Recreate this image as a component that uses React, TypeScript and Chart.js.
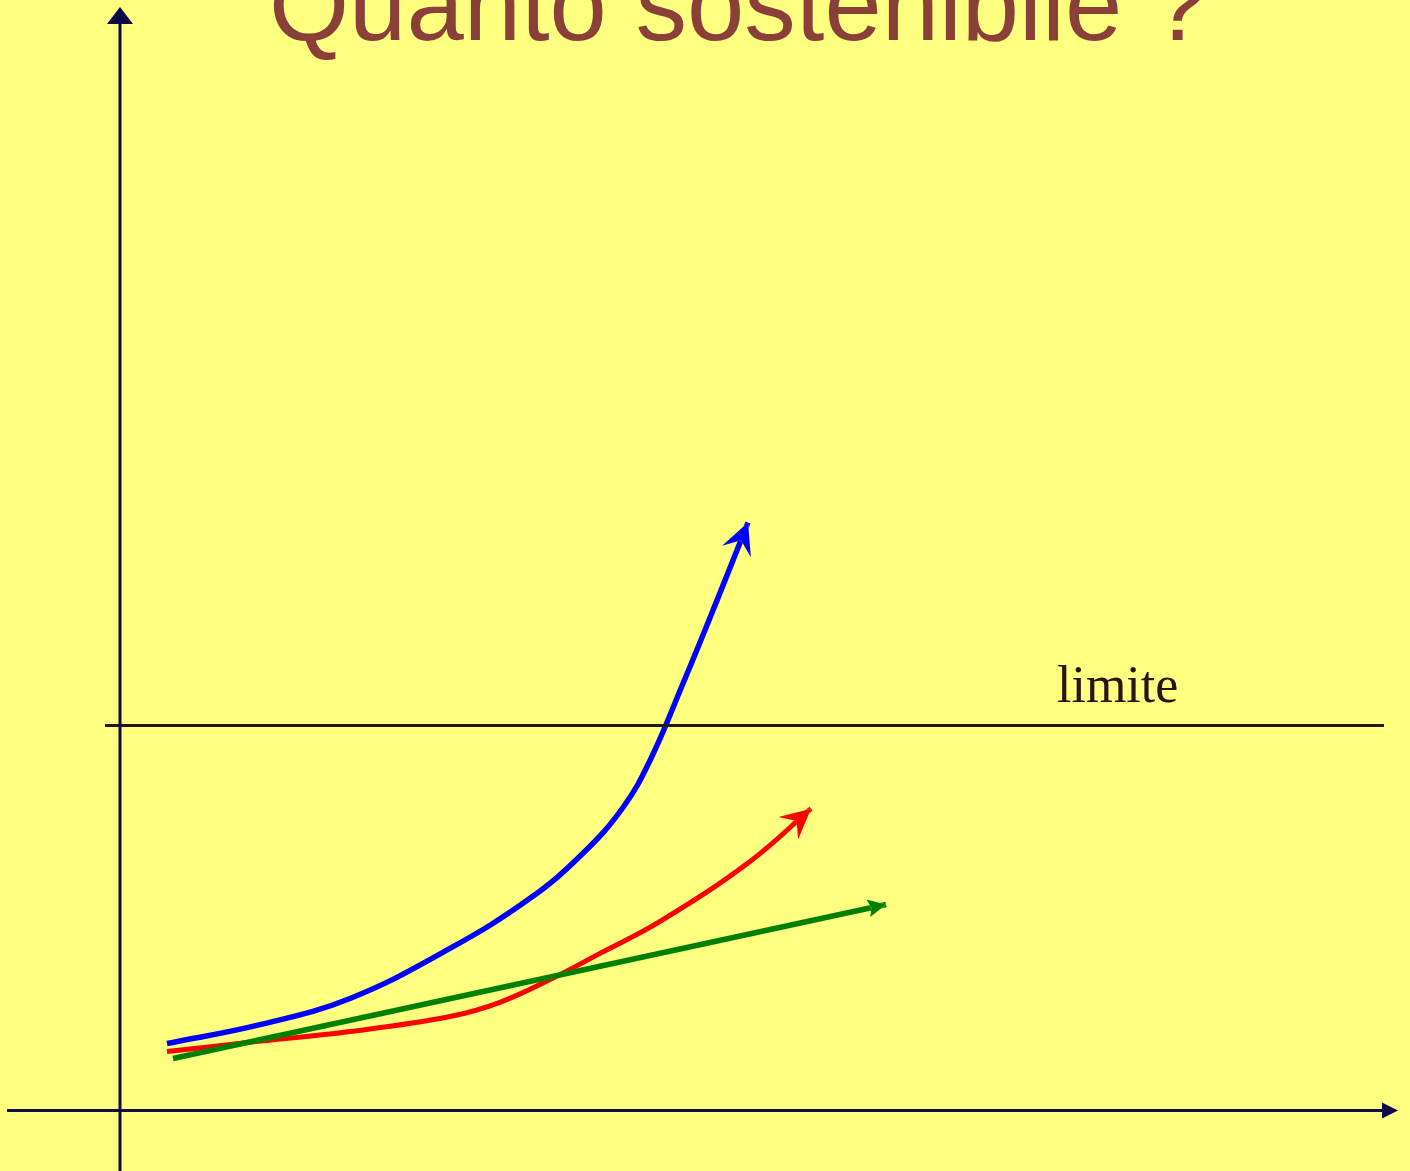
import React, { useEffect, useRef } from "react";
import { Chart, registerables } from "chart.js";

Chart.register(...registerables);

// ---- Data (x: time units, y: pressure units; limit = 100) ----
const blueX = [4.7, 14.0, 23.0, 33.0, 41.0, 46.3, 50.3, 53.0, 56.3, 59.7, 62.8];
const blueY = [17.4, 22.3, 29.1, 42.1, 55.1, 66.8, 78.7, 90.9, 110.9, 132.5, 152.7];

const redX = [4.7, 13.0, 23.0, 33.0, 38.0, 43.0, 48.0, 54.0, 63.0, 69.1];
const redY = [15.3, 17.7, 20.5, 24.4, 28.1, 34.0, 40.8, 49.1, 64.7, 78.4];

const greenX = [5.3, 76.6];
const greenY = [13.5, 53.5];

const limitValue = 100;
const limitLabel = "limite";
const titleText = "Quanto sostenibile ?";

// axis extents (data units)
const xAxisRange = [-11.3, 127.8];
const yAxisTop = 286.6;
const limitRange = [-1.5, 126.4];
const limitLabelX = 93.7;

const BG = "#FFFF80";
const AXIS = "#0c0c48";
const LIMIT = "#2a1410";
const TITLE = "#8a3f38";

const toPoints = (xs: number[], ys: number[]) => xs.map((x, i) => ({ x, y: ys[i] }));

function arrowPoly(chart: any, index: number) {
  const ds: any = chart.data.datasets[index];
  if (!ds || !ds.arrowLen) return null;
  const meta = chart.getDatasetMeta(index);
  const pts = meta.data;
  const n = pts.length;
  if (n < 2) return null;
  const tip = pts[n - 1];
  const prev = pts[n - 2];
  let ux = tip.x - prev.x;
  let uy = tip.y - prev.y;
  const len = Math.hypot(ux, uy) || 1;
  ux /= len;
  uy /= len;
  const nx = -uy;
  const ny = ux;
  const L = ds.arrowLen, W = ds.arrowHalf, N = ds.arrowNotch;
  return [
    [tip.x, tip.y],
    [tip.x - ux * L + nx * W, tip.y - uy * L + ny * W],
    [tip.x - ux * N, tip.y - uy * N],
    [tip.x - ux * L - nx * W, tip.y - uy * L - ny * W],
  ];
}

const arrowPlugin = {
  id: "arrowheads",
  beforeDatasetDraw(chart: any, args: any) {
    const poly = arrowPoly(chart, args.index);
    if (!poly) return;
    const ctx = chart.ctx;
    ctx.save();
    ctx.beginPath();
    ctx.rect(0, 0, chart.width, chart.height);
    ctx.moveTo(poly[0][0], poly[0][1]);
    for (let i = 1; i < poly.length; i++) ctx.lineTo(poly[i][0], poly[i][1]);
    ctx.closePath();
    ctx.clip("evenodd");
  },
  afterDatasetDraw(chart: any, args: any) {
    const poly = arrowPoly(chart, args.index);
    if (!poly) return;
    const ctx = chart.ctx;
    ctx.restore();
    ctx.save();
    ctx.fillStyle = chart.data.datasets[args.index].borderColor;
    ctx.beginPath();
    ctx.moveTo(poly[0][0], poly[0][1]);
    for (let i = 1; i < poly.length; i++) ctx.lineTo(poly[i][0], poly[i][1]);
    ctx.closePath();
    ctx.fill();
    ctx.restore();
  },
};

const decorPlugin = {
  id: "decor",
  beforeDraw(chart: any) {
    const ctx = chart.ctx;
    ctx.save();
    ctx.fillStyle = BG;
    ctx.fillRect(0, 0, chart.width, chart.height);
    ctx.restore();
  },
  afterDatasetsDraw(chart: any) {
    const ctx = chart.ctx;
    const xs = chart.scales.x;
    const ys = chart.scales.y;
    const x0 = xs.getPixelForValue(0);
    const y0 = ys.getPixelForValue(0);
    ctx.save();

    // limit line
    const yl = ys.getPixelForValue(limitValue);
    ctx.strokeStyle = LIMIT;
    ctx.lineWidth = 3;
    ctx.beginPath();
    ctx.moveTo(xs.getPixelForValue(limitRange[0]), yl);
    ctx.lineTo(xs.getPixelForValue(limitRange[1]), yl);
    ctx.stroke();
    ctx.fillStyle = LIMIT;
    ctx.font = '52px "Liberation Serif", "DejaVu Serif", serif';
    ctx.textAlign = "left";
    ctx.textBaseline = "alphabetic";
    ctx.fillText(limitLabel, xs.getPixelForValue(limitLabelX), yl - 23.5);

    // axes
    ctx.strokeStyle = AXIS;
    ctx.fillStyle = AXIS;
    ctx.lineWidth = 3;
    const yTop = ys.getPixelForValue(yAxisTop);
    ctx.beginPath();
    ctx.moveTo(x0, chart.height);
    ctx.lineTo(x0, yTop + 12);
    ctx.stroke();
    ctx.beginPath();
    ctx.moveTo(x0, yTop);
    ctx.lineTo(x0 - 13, yTop + 17);
    ctx.lineTo(x0 + 13, yTop + 17);
    ctx.closePath();
    ctx.fill();

    const xRight = xs.getPixelForValue(xAxisRange[1]);
    ctx.beginPath();
    ctx.moveTo(xs.getPixelForValue(xAxisRange[0]), y0);
    ctx.lineTo(xRight - 10, y0);
    ctx.stroke();
    ctx.beginPath();
    ctx.moveTo(xRight, y0);
    ctx.lineTo(xRight - 16, y0 - 8);
    ctx.lineTo(xRight - 16, y0 + 8);
    ctx.closePath();
    ctx.fill();

    // title
    ctx.fillStyle = TITLE;
    ctx.font = '103px "Liberation Sans", Arial, sans-serif';
    ctx.textAlign = "left";
    ctx.fillText(titleText, 269, 40);
    ctx.restore();
  },
};

export default function App() {
  const ref = useRef<HTMLCanvasElement | null>(null);

  useEffect(() => {
    document.body.style.margin = "0";
    document.body.style.background = BG;
    document.body.style.overflow = "hidden";
    const canvas = ref.current;
    if (!canvas) return;
    const chart = new Chart(canvas, {
      type: "line",
      data: {
        datasets: [
          {
            label: "verde",
            data: toPoints(greenX, greenY),
            borderColor: "#008000",
            borderWidth: 5.5,
            pointRadius: 0,
            borderCapStyle: "butt",
            arrowLen: 18,
            arrowHalf: 9,
            arrowNotch: 15,
          } as any,
          {
            label: "rosso",
            data: toPoints(redX, redY),
            borderColor: "#ff0000",
            borderWidth: 5,
            pointRadius: 0,
            tension: 0.4,
            borderCapStyle: "butt",
            arrowLen: 30,
            arrowHalf: 15,
            arrowNotch: 19,
          } as any,
          {
            label: "blu",
            data: toPoints(blueX, blueY),
            borderColor: "#0000ff",
            borderWidth: 5.5,
            pointRadius: 0,
            tension: 0.4,
            borderCapStyle: "butt",
            arrowLen: 31,
            arrowHalf: 15.5,
            arrowNotch: 19,
          } as any,
        ],
      },
      options: {
        animation: false,
        responsive: true,
        maintainAspectRatio: false,
        layout: { padding: 0 },
        plugins: {
          legend: { display: false },
          tooltip: { enabled: false },
          title: { display: false },
        },
        events: [],
        scales: {
          x: { type: "linear", min: -12.0, max: 129.0, display: false },
          y: { type: "linear", min: -15.72, max: 288.44, display: false },
        },
      },
      plugins: [decorPlugin, arrowPlugin],
    });
    return () => chart.destroy();
  }, []);

  return (
    <div
      style={{
        position: "absolute",
        left: 0,
        top: 0,
        width: 1410,
        height: 1171,
        background: BG,
      }}
    >
      <canvas ref={ref} />
    </div>
  );
}
